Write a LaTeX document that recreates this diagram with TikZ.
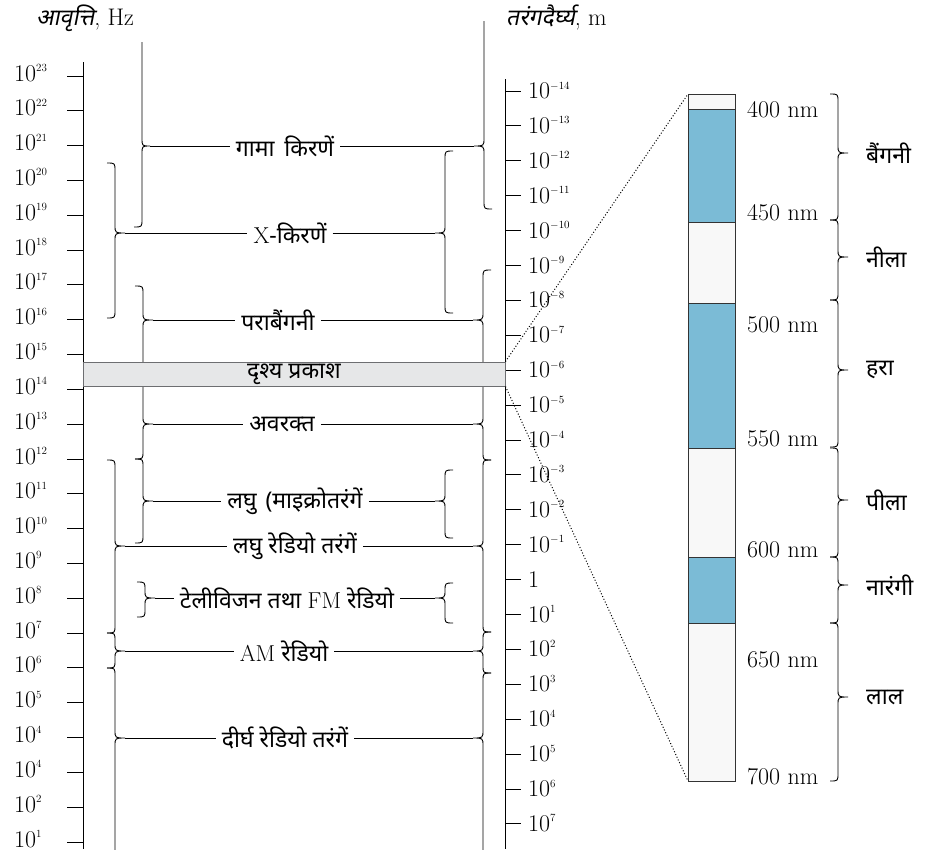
\documentclass[tikz,border=0pt]{standalone}
\usepackage{fontspec}
\newfontfamily\hindi[Script=Devanagari]{Noto Sans}
\newfontfamily\hindisl[Script=Devanagari,FakeSlant=0.2]{Noto Sans}
\usetikzlibrary{positioning}
\definecolor{bandgray}{HTML}{E6E7E8}
\definecolor{bandline}{HTML}{6D6E71}
\definecolor{specblue}{HTML}{7BBBD6}
\definecolor{specwhite}{HTML}{F8F8F8}
\tikzset{wave/.style={font=\hindi\fontsize{23}{26}\selectfont, inner xsep=6pt, inner ysep=2pt},
  leader/.style={line width=0.9pt},
  brc/.style={line width=0.9pt},
  axisline/.style={line width=1pt},
  tickmark/.style={line width=1pt},
  tlab/.style={font=\fontsize{24}{26}\selectfont, inner sep=0pt},
  colname/.style={font=\hindi\fontsize{23}{26}\selectfont, inner sep=0pt},
  band/.style={draw=bandline, fill=bandgray, line width=0.9pt, minimum width=422pt,
    minimum height=24pt, inner sep=0pt, font=\hindi\fontsize{23}{26}\selectfont},
  strip/.style={draw=black!80, line width=0.8pt}}
\newcommand\tenpow[1]{10\raisebox{9.5pt}{\fontsize{11}{11}\selectfont #1}}
% brace with tip to the right: name, arm x, top, tip, bottom
\newcommand\spbraceL[5]{%
  \draw[brc] (#2-8,#3) .. controls (#2,#3) .. (#2,#3+8) -- (#2,#4-8)
    .. controls (#2,#4) .. (#2+10,#4) .. controls (#2,#4) .. (#2,#4+8)
    -- (#2,#5-8) .. controls (#2,#5) .. (#2-8,#5);
  \coordinate (#1) at (#2+10,#4);}
% brace with tip to the left
\newcommand\spbraceR[5]{%
  \draw[brc] (#2+8,#3) .. controls (#2,#3) .. (#2,#3+8) -- (#2,#4-8)
    .. controls (#2,#4) .. (#2-10,#4) .. controls (#2,#4) .. (#2,#4+8)
    -- (#2,#5-8) .. controls (#2,#5) .. (#2+8,#5);
  \coordinate (#1) at (#2-10,#4);}

\begin{document}
\begin{tikzpicture}[x=1pt,y=-1pt]
  \useasboundingbox (0,0) rectangle (925,849);
  \clip (0,0) rectangle (925,849);
  % headers
  \node[anchor=base west, font=\fontsize{24}{26}\selectfont, inner sep=0pt] (fhead) at (36,25) {{\hindisl\fontsize{23}{26}\selectfont आवृत्ति}, Hz};
  \node[anchor=base west, font=\fontsize{24}{26}\selectfont, inner sep=0pt] (lhead) at (506,25) {{\hindisl\fontsize{23}{26}\selectfont तरंगदैर्घ्य}, m};
  % frequency axis
  \draw[axisline] (83,62) -- (83,849);
  \foreach \e [count=\i from 0] in {23,22,21,20,19,18,17,16,15,14,13,12,11,10,9,8,7,6,5,4,4,2,1} {
    \draw[tickmark] (67,76+34.82*\i) -- (83,76+34.82*\i);
    \node[tlab, anchor=base west] (fq\i) at (14,81+34.82*\i) {\tenpow{\e}};
  }
  % wavelength axis
  \draw[axisline] (505,79) -- (505,849);
  \foreach \i in {0,...,21}
    \draw[tickmark] (505,91+34.9*\i) -- (521,91+34.9*\i);
  \foreach \i in {0,...,13} {
    \pgfmathtruncatemacro\ex{\i-14}
    \node[tlab, anchor=base west] (wl\i) at (528,98.5+34.9*\i) {\tenpow{$\ex$}};
  }
  \node[tlab, anchor=base west] (wl14) at (528,98.5+34.9*14) {1};
  \foreach \i in {15,...,21} {
    \pgfmathtruncatemacro\ex{\i-14}
    \node[tlab, anchor=base west] (wl\i) at (528,98.5+34.9*\i) {\tenpow{\ex}};
  }
  % braces, frequency side
  \draw[brc] (142,42) -- (142,138) .. controls (142,146) .. (150,146)
    .. controls (142,146) .. (142,154) -- (142,219) .. controls (142,227) .. (134,227);
  \coordinate (gL) at (150,146);
  \spbraceL{xL}{115}{163}{233}{318}
  \spbraceL{uL}{143}{286}{320}{380}
  \spbraceL{iL}{143}{368}{424}{459}
  \spbraceL{mL}{143}{459}{501}{543}
  \spbraceL{sL}{115}{460}{546}{633}
  \spbraceL{tL}{145}{582}{598}{617}
  \spbraceL{aL}{115}{633}{651}{668}
  \spbraceL{lL}{115}{668}{738}{880}
  % braces, wavelength side
  \draw[brc] (484,21) -- (484,138) .. controls (484,146) .. (474,146)
    .. controls (484,146) .. (484,154) -- (484,201) .. controls (484,209) .. (492,209);
  \coordinate (gR) at (474,146);
  \spbraceR{xR}{445}{151}{233}{313}
  \spbraceR{uR}{483}{270}{320}{380}
  \spbraceR{iR}{483}{368}{424}{460}
  \spbraceR{mR}{445}{470}{501}{538}
  \spbraceR{sR}{483}{460}{546}{632}
  \spbraceR{tR}{445}{583}{598}{623}
  \spbraceR{aR}{483}{632}{651}{673}
  \spbraceR{lR}{483}{673}{738}{880}
  % visible band
  \node[band] (vis) at (294,374) {दृश्य प्रकाश};
  % regions
  \node[wave] (gamma) at (285,146) {गामा\hspace{4pt} किरणें};
  \node[wave] (xray) at (290,233) {\textrm{X}-किरणें};
  \node[wave] (uv) at (278,320) {पराबैंगनी};
  \node[wave] (ir) at (282,424) {अवरक्त};
  \node[wave] (micro) at (295,501) {लघु\hspace{3pt} (माइक्रोतरंगें};
  \node[wave] (sradio) at (295,546) {लघु रेडियो तरंगें};
  \node[wave] (tvfm) at (287,598) {टेलीविजन तथा \textrm{FM} रेडियो};
  \node[wave] (am) at (284,651) {\textrm{AM} रेडियो};
  \node[wave] (lradio) at (285,738) {दीर्घ रेडियो तरंगें};
  \draw[leader] (gL) -- (gamma.west);  \draw[leader] (gamma.east) -- (gR);
  \draw[leader] (xL) -- (xray.west);   \draw[leader] (xray.east) -- (xR);
  \draw[leader] (uL) -- (uv.west);     \draw[leader] (uv.east) -- (uR);
  \draw[leader] (iL) -- (ir.west);     \draw[leader] (ir.east) -- (iR);
  \draw[leader] (mL) -- (micro.west);  \draw[leader] (micro.east) -- (mR);
  \draw[leader] (sL) -- (sradio.west); \draw[leader] (sradio.east) -- (sR);
  \draw[leader] (tL) -- (tvfm.west);   \draw[leader] (tvfm.east) -- (tR);
  \draw[leader] (aL) -- (am.west);     \draw[leader] (am.east) -- (aR);
  \draw[leader] (lL) -- (lradio.west); \draw[leader] (lradio.east) -- (lR);
  % visible spectrum strip
  \foreach \ya/\yb/\fc in {94/109/specwhite,109/222/specblue,222/303/specwhite,303/448/specblue,
      448/557/specwhite,557/623/specblue,623/781/specwhite}
    \filldraw[strip, fill=\fc] (688,\ya) rectangle (735,\yb);
  \coordinate (bartop) at (688,94);
  \coordinate (barbot) at (688,781);
  \draw[dotted, line width=1pt] (vis.north east) -- (bartop);
  \draw[dotted, line width=1pt] (vis.south east) -- (barbot);
  \foreach \nm/\y in {400/110,450/213,500/325,550/439,600/550,650/660,700/777}
    \node[tlab, anchor=base west] (nm\nm) at (747,\y+7.5) {\nm{} nm};
  \spbraceL{cv}{838}{94}{153}{220}
  \spbraceL{cb}{838}{220}{257}{300}
  \spbraceL{cg}{838}{300}{370}{447}
  \spbraceL{cy}{838}{448}{500}{557}
  \spbraceL{co}{838}{557}{585}{623}
  \spbraceL{cr}{838}{623}{697}{781}
  \node[colname, right=18pt of cv] (violet) {बैंगनी};
  \node[colname, right=18pt of cb] (blue) {नीला};
  \node[colname, right=18pt of cg] (green) {हरा};
  \node[colname, right=18pt of cy] (yellow) {पीला};
  \node[colname, right=18pt of co] (orange) {नारंगी};
  \node[colname, right=18pt of cr] (red) {लाल};
\end{tikzpicture}
\end{document}
